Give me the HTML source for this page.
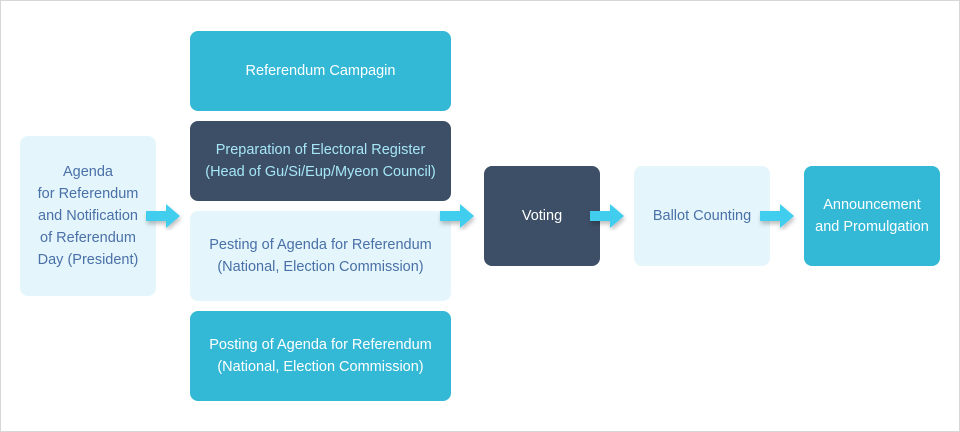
<!DOCTYPE html>
<html><head><style>
body{margin:0;width:960px;height:432px;background:#fff;font-family:"Liberation Sans",sans-serif;overflow:hidden}
.frame{position:absolute;left:0;top:0;width:958px;height:430px;border:1px solid #d6d6d6}
.b{position:absolute;border-radius:8px;display:flex;align-items:center;justify-content:center;text-align:center;font-size:14.5px;line-height:22px}
.l{background:#e4f6fb;color:#4a70a8}
.t{background:#33b8d6;color:#fff}
.d{background:#3d4f66;color:#a6e6f7}
</style></head><body>
<div class="frame"></div>
<div class="b l" style="left:20px;top:136px;width:136px;height:160px">Agenda<br>for Referendum<br>and Notification<br>of Referendum<br>Day (President)</div>
<div class="b t" style="left:190px;top:31px;width:261px;height:80px">Referendum Campagin</div>
<div class="b d" style="left:190px;top:121px;width:261px;height:80px">Preparation of Electoral Register<br>(Head of Gu/Si/Eup/Myeon Council)</div>
<div class="b l" style="left:190px;top:211px;width:261px;height:90px">Pesting of Agenda for Referendum<br>(National, Election Commission)</div>
<div class="b t" style="left:190px;top:311px;width:261px;height:90px">Posting of Agenda for Referendum<br>(National, Election Commission)</div>
<div class="b d" style="left:484px;top:166px;width:116px;height:100px;color:#fff">Voting</div>
<div class="b l" style="left:634px;top:166px;width:136px;height:100px">Ballot Counting</div>
<div class="b t" style="left:804px;top:166px;width:136px;height:100px">Announcement<br>and Promulgation</div>
<svg width="960" height="432" style="position:absolute;left:0;top:0">
<defs><filter id="s"><feDropShadow dx="1" dy="3" stdDeviation="2" flood-color="#000" flood-opacity="0.25"/></filter>
<polygon id="ar" points="0,-5 20,-5 20,-12 34,0 20,12 20,5 0,5" fill="#3fcdee" filter="url(#s)"/></defs>
<use href="#ar" x="146" y="216"/>
<use href="#ar" x="440" y="216"/>
<use href="#ar" x="590" y="216"/>
<use href="#ar" x="760" y="216"/>
</svg>
</body></html>
